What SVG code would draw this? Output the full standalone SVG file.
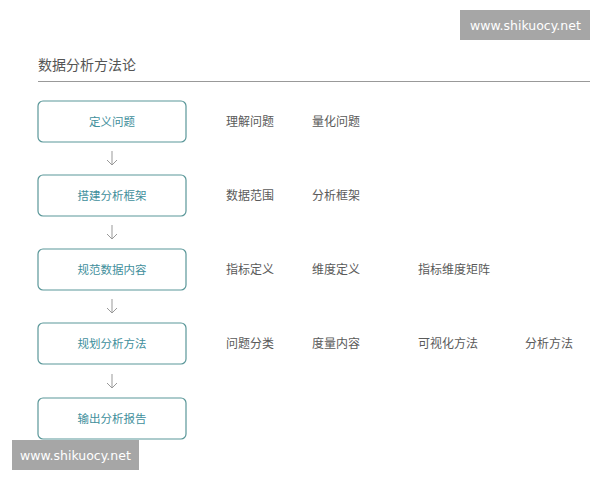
<svg xmlns="http://www.w3.org/2000/svg" width="600" height="480" viewBox="0 0 600 480">
<style>
text{font-family:"Noto Sans CJK SC","Noto Sans",sans-serif;}
.title{font-size:14px;fill:#555;}
.box rect{fill:#fff;stroke:#5a9799;stroke-width:1.2;}
.box text{font-size:11.5px;fill:#3f8f9c;text-anchor:middle;}
.lbl{font-size:12px;fill:#5a5a5a;}
.wm rect{fill:#a6a6a6;}
.wm text{font-family:"DejaVu Sans","Noto Sans",sans-serif;font-size:12.5px;fill:#fff;}
.conn path{fill:none;stroke:#999;stroke-width:1;}
</style>
<rect width="600" height="480" fill="#fff"/>
<g id="watermark-top" class="wm"><rect x="460" y="10" width="130" height="30"/><text x="470" y="30">www.shikuocy.net</text></g>
<text class="title" x="38" y="70">数据分析方法论</text>
<line x1="38" y1="81.5" x2="590" y2="81.5" stroke="#999" stroke-width="1"/>
<g id="connectors" class="conn">
<path d="M112 151V165M107 160L112 165L117 160"/>
<path d="M112 225V239M107 234L112 239L117 234"/>
<path d="M112 299V313M107 308L112 313L117 308"/>
<path d="M112 374V388M107 383L112 388L117 383"/>
</g>
<g id="n1" class="box"><rect x="38" y="101" width="148" height="41" rx="5"/><text x="112" y="126">定义问题</text></g>
<g id="n2" class="box"><rect x="38" y="175" width="148" height="41" rx="5"/><text x="112" y="200">搭建分析框架</text></g>
<g id="n3" class="box"><rect x="38" y="249" width="148" height="41" rx="5"/><text x="112" y="274">规范数据内容</text></g>
<g id="n4" class="box"><rect x="38" y="323" width="148" height="41" rx="5"/><text x="112" y="348">规划分析方法</text></g>
<g id="n5" class="box"><rect x="38" y="398" width="148" height="41" rx="5"/><text x="112" y="423">输出分析报告</text></g>
<g id="labels">
<text class="lbl" x="226" y="126">理解问题</text>
<text class="lbl" x="312" y="126">量化问题</text>
<text class="lbl" x="226" y="200">数据范围</text>
<text class="lbl" x="312" y="200">分析框架</text>
<text class="lbl" x="226" y="274">指标定义</text>
<text class="lbl" x="312" y="274">维度定义</text>
<text class="lbl" x="418" y="274">指标维度矩阵</text>
<text class="lbl" x="226" y="348">问题分类</text>
<text class="lbl" x="312" y="348">度量内容</text>
<text class="lbl" x="418" y="348">可视化方法</text>
<text class="lbl" x="525" y="348">分析方法</text>
</g>
<g id="watermark-bottom" class="wm"><rect x="12" y="440" width="127" height="30"/><text x="20" y="460">www.shikuocy.net</text></g>
</svg>
